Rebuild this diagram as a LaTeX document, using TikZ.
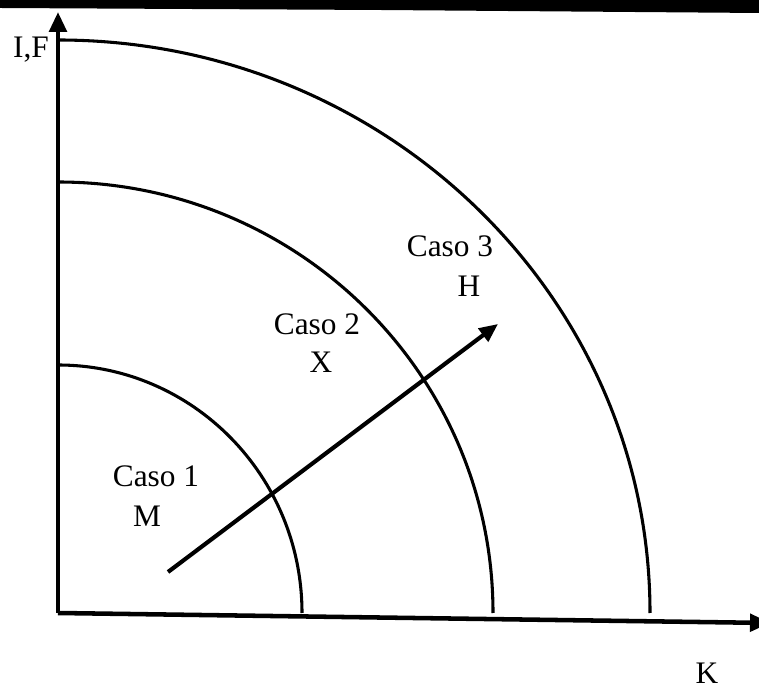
\documentclass[tikz,border=0pt]{standalone}
\usepackage{fontspec}
\setmainfont{Liberation Serif}
\usetikzlibrary{arrows.meta}
\begin{document}
\begin{tikzpicture}[x=0.75pt,y=0.75pt,
  axisline/.style={line width=3.4pt,-{Triangle[length=15pt,width=13pt]}},
  ringline/.style={line width=2.3pt},
  flowarrow/.style={line width=3.1pt,-{Triangle[length=14pt,width=12pt]}},
  lbl/.style={inner sep=0pt,anchor=base,font=\fontsize{23.5}{28}\selectfont}]
\useasboundingbox (0,0) rectangle (759,688);
\clip (0,0) rectangle (759,688);
\fill[white] (0,0) rectangle (759,688);
% scanner bar on top
\fill[black] (0,689) -- (760,689) -- (760,675) -- (380,678) -- (0,680) -- cycle;
% origin and axis ends
\coordinate (O) at (58,75);
\coordinate (ytip) at (58,676);
\coordinate (xtip) at (770,65);
\draw[axisline] (O) -- (ytip);
\draw[axisline] (O) -- (xtip);
% rings
\draw[ringline] (58,648) arc[start angle=90,end angle=0,x radius=592,y radius=573];
\draw[ringline] (58,506) arc[start angle=90,end angle=0,x radius=435,y radius=431];
\draw[ringline] (58,323) arc[start angle=90,end angle=0,x radius=244,y radius=248];
% growth arrow
\coordinate (astart) at (168,116);
\coordinate (aend) at (498,364);
\draw[flowarrow] (astart) -- (aend);
% labels
\node[lbl] (yl) at (31,630) {I,F};
\node[lbl] (xl) at (707,5) {K};
\node[lbl] (c1) at (156,201) {Caso 1};
\node[lbl] (m) at (147,161) {M};
\node[lbl] (c2) at (317,353) {Caso 2};
\node[lbl] (x) at (321,315) {X};
\node[lbl] (c3) at (450,431) {Caso 3};
\node[lbl] (h) at (469,391) {H};
\end{tikzpicture}
\end{document}
